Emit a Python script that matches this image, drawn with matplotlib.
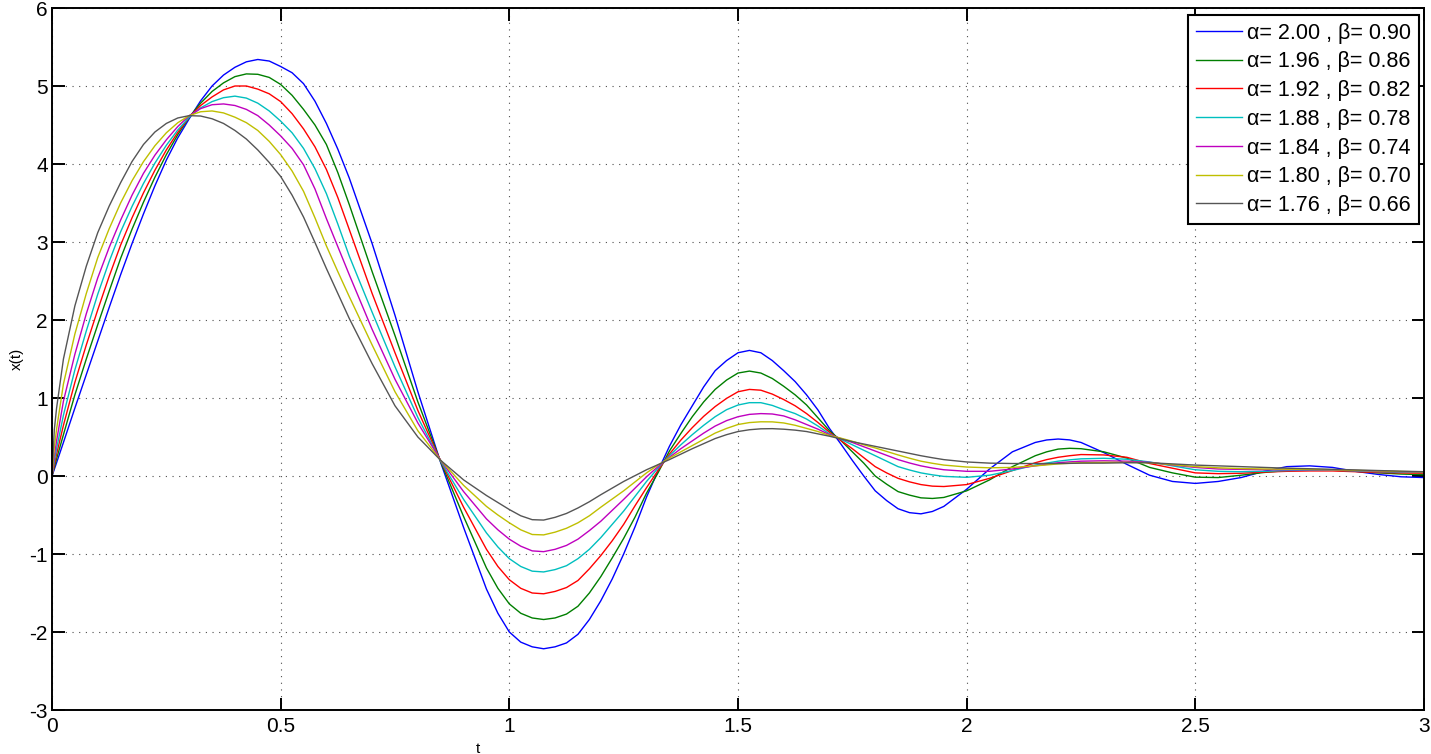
import matplotlib
matplotlib.use('Agg')
import matplotlib.pyplot as plt

plt.rcParams['font.family'] = ['Liberation Sans', 'DejaVu Sans']

# sample times (denser where the curves bend)
t = [0, 0.005, 0.01, 0.025, 0.05, 0.075, 0.1, 0.125, 0.15, 0.175,
     0.2, 0.225, 0.25, 0.275, 0.3, 0.325, 0.35, 0.375, 0.4, 0.425,
     0.45, 0.475, 0.5, 0.525, 0.55, 0.575, 0.6, 0.625, 0.65, 0.7,
     0.75, 0.8, 0.85, 0.9, 0.95, 0.975, 1.0, 1.025, 1.05, 1.075,
     1.1, 1.125, 1.15, 1.175, 1.2, 1.225, 1.25, 1.275, 1.3, 1.325,
     1.35, 1.375, 1.4, 1.425, 1.45, 1.475, 1.5, 1.525, 1.55, 1.575,
     1.6, 1.625, 1.65, 1.675, 1.7, 1.725, 1.75, 1.775, 1.8, 1.825,
     1.85, 1.875, 1.9, 1.925, 1.95, 2.0, 2.05, 2.1, 2.15, 2.175,
     2.2, 2.225, 2.25, 2.3, 2.35, 2.4, 2.45, 2.5, 2.55, 2.6,
     2.65, 2.7, 2.75, 2.8, 2.85, 2.9, 2.95, 3.0]

x_a200 = [0, 0.085, 0.17, 0.43, 0.87, 1.30, 1.73, 2.16, 2.58, 2.98,
          3.36, 3.72, 4.05, 4.335, 4.58, 4.81, 5.0, 5.14, 5.24, 5.31,
          5.34, 5.32, 5.25, 5.17, 5.03, 4.805, 4.52, 4.19, 3.82, 2.98,
          2.06, 1.08, 0.17, -0.66, -1.45, -1.76, -2.0, -2.13, -2.19, -2.215,
          -2.19, -2.14, -2.03, -1.84, -1.6, -1.32, -1.0, -0.65, -0.27, 0.065,
          0.38, 0.656, 0.9, 1.143, 1.35, 1.48, 1.58, 1.61, 1.58, 1.48,
          1.35, 1.21, 1.04, 0.845, 0.61, 0.41, 0.2, 0.0, -0.19, -0.315,
          -0.42, -0.47, -0.485, -0.455, -0.39, -0.17, 0.09, 0.31, 0.43, 0.462,
          0.474, 0.463, 0.43, 0.3, 0.15, 0.01, -0.07, -0.095, -0.07, -0.02,
          0.06, 0.12, 0.13, 0.11, 0.06, 0.02, -0.01, -0.02]
x_a196 = [0, 0.11, 0.22, 0.53, 1.04, 1.5, 1.94, 2.37, 2.79, 3.164,
          3.51, 3.83, 4.12, 4.376, 4.6, 4.78, 4.93, 5.04, 5.12, 5.155,
          5.15, 5.11, 5.02, 4.88, 4.7, 4.50, 4.25, 3.89, 3.48, 2.62,
          1.8, 0.95, 0.18, -0.52, -1.18, -1.44, -1.64, -1.76, -1.82, -1.84,
          -1.82, -1.77, -1.67, -1.5, -1.29, -1.05, -0.80, -0.525, -0.22, 0.04,
          0.32, 0.545, 0.76, 0.95, 1.11, 1.23, 1.32, 1.345, 1.32, 1.25,
          1.15, 1.04, 0.91, 0.745, 0.58, 0.455, 0.31, 0.165, 0.0, -0.105,
          -0.2, -0.245, -0.28, -0.288, -0.275, -0.19, -0.05, 0.12, 0.26, 0.31,
          0.345, 0.355, 0.35, 0.31, 0.23, 0.11, 0.04, -0.015, -0.02, 0.01,
          0.045, 0.07, 0.08, 0.075, 0.06, 0.04, 0.025, 0.017]
x_a192 = [0, 0.14, 0.28, 0.65, 1.2, 1.68, 2.13, 2.56, 2.96, 3.31,
          3.63, 3.92, 4.18, 4.406, 4.6, 4.75, 4.86, 4.95, 5.0, 5.0,
          4.96, 4.9, 4.8, 4.645, 4.45, 4.22, 3.93, 3.57, 3.16, 2.34,
          1.58, 0.84, 0.19, -0.40, -0.94, -1.16, -1.33, -1.44, -1.50, -1.51,
          -1.48, -1.43, -1.34, -1.19, -1.02, -0.83, -0.62, -0.38, -0.15, 0.07,
          0.28, 0.46, 0.62, 0.765, 0.89, 0.995, 1.08, 1.11, 1.10, 1.05,
          0.98, 0.90, 0.80, 0.685, 0.56, 0.455, 0.35, 0.235, 0.12, 0.04,
          -0.03, -0.075, -0.11, -0.13, -0.135, -0.11, -0.03, 0.07, 0.17, 0.21,
          0.24, 0.26, 0.275, 0.27, 0.24, 0.16, 0.1, 0.04, 0.03, 0.035,
          0.05, 0.06, 0.065, 0.065, 0.055, 0.045, 0.04, 0.035]
x_a188 = [0, 0.19, 0.35, 0.78, 1.36, 1.86, 2.33, 2.75, 3.13, 3.456,
          3.75, 4.011, 4.24, 4.436, 4.6, 4.72, 4.8, 4.85, 4.87, 4.845,
          4.78, 4.68, 4.55, 4.4, 4.2, 3.94, 3.62, 3.23, 2.82, 2.1,
          1.4, 0.75, 0.19, -0.30, -0.73, -0.91, -1.06, -1.16, -1.22, -1.23,
          -1.20, -1.15, -1.06, -0.94, -0.79, -0.62, -0.45, -0.26, -0.07, 0.1,
          0.26, 0.40, 0.53, 0.65, 0.76, 0.85, 0.91, 0.94, 0.94, 0.905,
          0.85, 0.80, 0.73, 0.64, 0.54, 0.47, 0.40, 0.33, 0.26, 0.19,
          0.12, 0.077, 0.04, 0.015, -0.005, -0.017, 0.01, 0.07, 0.14, 0.166,
          0.19, 0.207, 0.22, 0.227, 0.215, 0.18, 0.13, 0.08, 0.06, 0.055,
          0.06, 0.07, 0.075, 0.075, 0.065, 0.055, 0.05, 0.045]
x_a184 = [0, 0.25, 0.45, 0.96, 1.56, 2.08, 2.54, 2.93, 3.28, 3.60,
          3.88, 4.113, 4.31, 4.48, 4.62, 4.71, 4.76, 4.77, 4.75, 4.70,
          4.62, 4.50, 4.36, 4.20, 3.99, 3.68, 3.3, 2.94, 2.58, 1.88,
          1.24, 0.68, 0.2, -0.20, -0.55, -0.69, -0.81, -0.90, -0.96, -0.97,
          -0.94, -0.89, -0.81, -0.70, -0.58, -0.44, -0.30, -0.155, -0.01, 0.12,
          0.24, 0.35, 0.45, 0.55, 0.64, 0.71, 0.76, 0.79, 0.80, 0.795,
          0.77, 0.72, 0.66, 0.60, 0.53, 0.48, 0.43, 0.375, 0.32, 0.265,
          0.21, 0.167, 0.13, 0.102, 0.08, 0.06, 0.06, 0.09, 0.13, 0.15,
          0.17, 0.181, 0.19, 0.195, 0.19, 0.175, 0.14, 0.11, 0.09, 0.085,
          0.08, 0.08, 0.08, 0.078, 0.07, 0.062, 0.055, 0.05]
x_a180 = [0, 0.36, 0.6, 1.18, 1.82, 2.34, 2.8, 3.17, 3.5, 3.785,
          4.03, 4.234, 4.4, 4.529, 4.62, 4.67, 4.68, 4.655, 4.6, 4.53,
          4.43, 4.29, 4.12, 3.91, 3.65, 3.31, 2.95, 2.62, 2.3, 1.68,
          1.08, 0.58, 0.2, -0.12, -0.39, -0.50, -0.60, -0.69, -0.75, -0.755,
          -0.72, -0.67, -0.60, -0.51, -0.40, -0.295, -0.19, -0.075, 0.04, 0.14,
          0.23, 0.31, 0.39, 0.47, 0.55, 0.61, 0.66, 0.685, 0.695, 0.694,
          0.68, 0.65, 0.61, 0.57, 0.52, 0.485, 0.445, 0.40, 0.36, 0.315,
          0.27, 0.228, 0.19, 0.163, 0.14, 0.115, 0.105, 0.11, 0.13, 0.142,
          0.155, 0.163, 0.17, 0.175, 0.175, 0.17, 0.145, 0.12, 0.105, 0.095,
          0.09, 0.087, 0.084, 0.08, 0.072, 0.065, 0.058, 0.052]
x_a176 = [0, 0.59, 0.87, 1.5, 2.18, 2.69, 3.12, 3.46, 3.76, 4.032,
          4.25, 4.41, 4.52, 4.59, 4.62, 4.615, 4.58, 4.52, 4.43, 4.32,
          4.18, 4.02, 3.84, 3.6, 3.32, 2.994, 2.66, 2.34, 2.02, 1.44,
          0.9, 0.5, 0.2, -0.05, -0.25, -0.34, -0.43, -0.51, -0.56, -0.565,
          -0.53, -0.48, -0.41, -0.33, -0.24, -0.155, -0.07, 0.005, 0.08, 0.145,
          0.21, 0.28, 0.35, 0.415, 0.48, 0.53, 0.57, 0.593, 0.605, 0.607,
          0.6, 0.588, 0.57, 0.54, 0.51, 0.475, 0.44, 0.41, 0.38, 0.35,
          0.32, 0.29, 0.26, 0.234, 0.21, 0.18, 0.165, 0.16, 0.16, 0.16,
          0.16, 0.162, 0.165, 0.165, 0.17, 0.17, 0.155, 0.14, 0.13, 0.12,
          0.11, 0.1, 0.093, 0.086, 0.078, 0.07, 0.062, 0.055]

series = [x_a200, x_a196, x_a192, x_a188, x_a184, x_a180, x_a176]
alphas = ['2.00', '1.96', '1.92', '1.88', '1.84', '1.80', '1.76']
betas = ['0.90', '0.86', '0.82', '0.78', '0.74', '0.70', '0.66']
colors = ['#0000ff', '#007f00', '#ff0000', '#00bfbf', '#bf00bf', '#bfbf00', '#555555']

xticks = [0, 0.5, 1, 1.5, 2, 2.5, 3]
xticklabels = ['0', '0.5', '1', '1.5', '2', '2.5', '3']
yticks = [-3, -2, -1, 0, 1, 2, 3, 4, 5, 6]
yticklabels = ['-3', '-2', '-1', '0', '1', '2', '3', '4', '5', '6']

W, H = 1431, 754
fig = plt.figure(figsize=(W / 100, H / 100), dpi=100)
ax = fig.add_axes([52 / W, 1 - 710 / H, (1424 - 52) / W, (710 - 8) / H])

for y, a, b, c in zip(series, alphas, betas, colors):
    ax.plot(t, y, color=c, lw=1.0, label='\u03b1= %s , \u03b2= %s' % (a, b))

ax.set_xlim(0, 3)
ax.set_ylim(-3, 6)
ax.set_xticks(xticks)
ax.set_xticklabels(xticklabels)
ax.set_yticks(yticks)
ax.set_yticklabels(yticklabels)
ax.tick_params(direction='in', length=9, width=1.4, labelsize=15,
               top=True, right=True)
ax.tick_params(axis='x', pad=5)
ax.tick_params(axis='y', pad=3)
ax.grid(True, linestyle=(0, (1, 5)), linewidth=0.8, color='0.3')
for s in ax.spines.values():
    s.set_linewidth(1.4)

ax.set_xlabel('t', fontsize=11, labelpad=0)
ax.set_ylabel('x(t)', fontsize=11, labelpad=4)
ax.xaxis.set_label_coords((478 - 52) / 1372, -0.045)

leg = ax.legend(loc='upper right', bbox_to_anchor=(1419 / W, 1 - 15 / H),
                bbox_transform=fig.transFigure, borderaxespad=0,
                fontsize=15.5, handlelength=2.14, handletextpad=0.27,
                labelspacing=0.36, borderpad=0.35, fancybox=False,
                framealpha=1, edgecolor='black')
leg.get_frame().set_linewidth(1.5)

fig.savefig('out.png', dpi=100)
